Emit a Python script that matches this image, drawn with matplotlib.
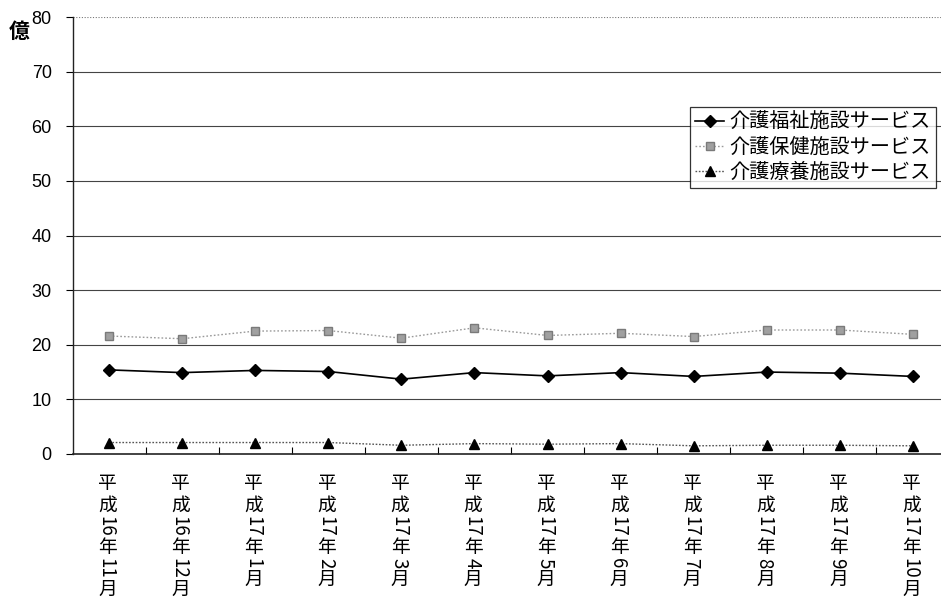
import matplotlib
matplotlib.use("Agg")
import matplotlib.pyplot as plt
from matplotlib.font_manager import FontProperties

plt.rcParams['font.family'] = ['Noto Sans CJK JP', 'DejaVu Sans']

# 月次データ（単位：億円）
months = ["平成16年11月", "平成16年12月", "平成17年1月", "平成17年2月",
          "平成17年3月", "平成17年4月", "平成17年5月", "平成17年6月",
          "平成17年7月", "平成17年8月", "平成17年9月", "平成17年10月"]
welfare = [15.4, 14.9, 15.3, 15.1, 13.7, 14.9, 14.3, 14.9, 14.2, 15.0, 14.8, 14.2]
health = [21.6, 21.1, 22.5, 22.6, 21.2, 23.1, 21.7, 22.1, 21.5, 22.7, 22.7, 21.9]
medical = [2.1, 2.1, 2.1, 2.1, 1.6, 1.9, 1.8, 1.9, 1.5, 1.6, 1.6, 1.5]
series_names = ["介護福祉施設サービス", "介護保健施設サービス", "介護療養施設サービス"]
y_ticks = [0, 10, 20, 30, 40, 50, 60, 70, 80]
unit_label = "億"

W, H = 941, 603
DPI = 100
fig = plt.figure(figsize=(W / DPI, H / DPI), dpi=DPI)
ax = fig.add_axes([72.5 / W, (H - 454) / H, 877 / W, 437 / H])

x = list(range(len(months)))
ax.plot(x, welfare, color='black', lw=1.2, marker='D', ms=6,
        label=series_names[0], zorder=4)
ax.plot(x, health, color='#9a9a9a', lw=1.0, ls=(0, (1.2, 1.5)), marker='s',
        ms=6, mfc='#a0a0a0', mec='#7a7a7a', label=series_names[1], zorder=4)
ax.plot(x, medical, color='#555555', lw=1.0, ls=(0, (1.2, 1.2)), marker='^',
        ms=6.5, mfc='black', mec='black', label=series_names[2], zorder=4)

ax.set_xlim(-0.5, len(months) - 0.5)
ax.set_ylim(0, 80)

# 横方向の目盛線
for v in y_ticks[1:-1]:
    ax.axhline(v, color='#444444', lw=0.8, zorder=1)
ax.axhline(80, color='#777777', lw=0.8, ls=(0, (1, 1.5)), zorder=1)

for side in ('top', 'right'):
    ax.spines[side].set_visible(False)
ax.spines['left'].set_color('#222222')
ax.spines['bottom'].set_color('#222222')
ax.spines['left'].set_linewidth(1.0)
ax.spines['bottom'].set_linewidth(1.2)

ax.set_yticks(y_ticks)
ax.set_yticklabels([str(v) for v in y_ticks],
                   fontproperties=FontProperties(family='Liberation Sans', size=13))
ax.tick_params(axis='y', direction='out', length=5, width=0.8, pad=10)

# 区切りの目盛（カテゴリ境界）
ax.set_xticks([i + 0.5 for i in range(len(months) - 1)])
ax.set_xticklabels([])
ax.tick_params(axis='x', direction='in', length=5, width=0.8)

fig.text(19 / W, 1 - 31 / H, unit_label, fontsize=15, fontweight='bold',
         ha='center', va='center')

# 縦書きの月ラベル（数字は横倒し）
fs = 13.5
def pieces(label):
    out = []
    buf = ""
    for ch in label:
        if ch.isdigit():
            buf += ch
        else:
            if buf:
                out.append((buf, True))
                buf = ""
            out.append((ch, False))
    if buf:
        out.append((buf, True))
    return out

renderer = fig.canvas.get_renderer()
px_per_pt = DPI / 72.0
axis_bottom_px = ax.transAxes.transform((0, 0))[1]

for i, lab in enumerate(months):
    top_px = axis_bottom_px - 19  # 最初の文字の上端
    for txt, is_num in pieces(lab):
        if is_num:
            dx = -1 - fs * 0.37
            t = ax.annotate(txt, xy=(i, 0), xycoords=('data', 'axes fraction'),
                            xytext=(dx, 0), textcoords='offset points',
                            ha='left', va='baseline', rotation=-90,
                            rotation_mode='anchor', fontsize=fs,
                            annotation_clip=False)
        else:
            dx = -1
            t = ax.annotate(txt, xy=(i, 0), xycoords=('data', 'axes fraction'),
                            xytext=(dx, 0), textcoords='offset points',
                            ha='center', va='top', fontsize=fs,
                            annotation_clip=False)
        bb = t.get_window_extent(renderer)
        shift_pt = (bb.y1 - top_px) / px_per_pt
        t.xyann = (dx, -shift_pt)
        top_px -= bb.height + 0.3

leg = ax.legend(loc='upper left', bbox_to_anchor=(690 / W, 1 - 107 / H),
                bbox_transform=fig.transFigure, borderaxespad=0,
                fontsize=14.5, frameon=True, fancybox=False,
                edgecolor='black', handlelength=1.45, handletextpad=0.25,
                borderpad=0.25, labelspacing=0.2)
leg.get_frame().set_linewidth(0.9)

fig.savefig("out.png", dpi=DPI)
